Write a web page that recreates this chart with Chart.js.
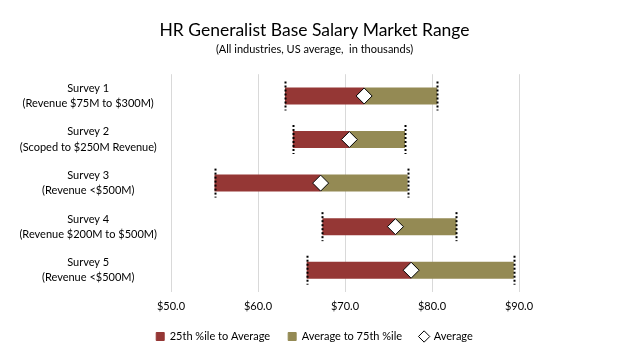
<!DOCTYPE html>
<html>
<head>
<meta charset="utf-8">
<script src="https://cdn.jsdelivr.net/npm/chart.js@4.4.0/dist/chart.umd.min.js"></script>
<style>
  html, body { margin: 0; padding: 0; background: #fff; }
  #wrap { width: 629px; height: 358px; }
</style>
</head>
<body>
<div id="wrap"><canvas id="salaryChart"></canvas></div>
<script>
// survey labels (two lines each)
const surveys = [
    ["Survey 1", "(Revenue $75M to $300M)"],
    ["Survey 2", "(Scoped to $250M Revenue)"],
    ["Survey 3", "(Revenue <$500M)"],
    ["Survey 4", "(Revenue $200M to $500M)"],
    ["Survey 5", "(Revenue <$500M)"]
];
const p25 = [63.1, 64.0, 55.0, 67.4, 65.6];
const avg = [72.2, 70.5, 67.2, 75.8, 77.6];
const p75 = [80.6, 76.9, 77.2, 82.8, 89.4];
const xTicks = [50, 60, 70, 80, 90];

const RED = "#953735";
const OLIVE = "#948A54";
const FONT = "Lato, 'Open Sans', sans-serif";

// dotted caps at the 25th and 75th percentile ends
const capPlugin = {
    id: "caps",
    afterDatasetsDraw(chart) {
        const ctx = chart.ctx;
        const xs = chart.scales.x;
        const bars = chart.getDatasetMeta(0).data;
        ctx.save();
        ctx.strokeStyle = "#000";
        ctx.lineWidth = 2;
        ctx.setLineDash([2, 2]);
        bars.forEach((bar, i) => {
            const h = bar.height / 2 + 6;
            [p25[i], p75[i]].forEach(v => {
                const x = Math.round(xs.getPixelForValue(v)) + 0.5;
                ctx.beginPath();
                ctx.moveTo(x, bar.y - h);
                ctx.lineTo(x, bar.y + h);
                ctx.stroke();
            });
        });
        ctx.restore();
    }
};

new Chart(document.getElementById("salaryChart"), {
    type: "bar",
    data: {
        labels: surveys,
        datasets: [
            {
                label: "25th %ile to Average",
                data: p25.map((v, i) => [v, avg[i]]),
                backgroundColor: RED,
                grouped: false,
                barPercentage: 0.39,
                categoryPercentage: 1,
                order: 2
            },
            {
                label: "Average to 75th %ile",
                data: avg.map((v, i) => [v, p75[i]]),
                backgroundColor: OLIVE,
                grouped: false,
                barPercentage: 0.39,
                categoryPercentage: 1,
                order: 2
            },
            {
                type: "line",
                label: "Average",
                data: avg,
                showLine: false,
                pointStyle: "rectRot",
                pointRadius: 8,
                pointBackgroundColor: "#fff",
                pointBorderColor: "#000",
                pointBorderWidth: 1,
                order: 1
            }
        ]
    },
    options: {
        indexAxis: "y",
        responsive: true,
        maintainAspectRatio: false,
        animation: false,
        layout: { padding: { left: 0, right: 0, top: 0, bottom: 6 } },
        plugins: {
            title: {
                display: true,
                text: "HR Generalist Base Salary Market Range",
                color: "#000",
                font: { family: FONT, size: 17.5, weight: "normal" },
                padding: { top: 20, bottom: 2 }
            },
            subtitle: {
                display: true,
                text: "(All industries, US average,  in thousands)",
                color: "#000",
                font: { family: FONT, size: 11 },
                padding: { top: 0, bottom: 18 }
            },
            legend: {
                position: "bottom",
                labels: {
                    color: "#000",
                    font: { family: FONT, size: 11 },
                    usePointStyle: true,
                    boxWidth: 8,
                    boxHeight: 8,
                    padding: 18,
                    generateLabels(chart) {
                        return chart.data.datasets.map((ds, i) => ({
                            text: ds.label,
                            fillStyle: i === 2 ? "#fff" : ds.backgroundColor,
                            strokeStyle: i === 2 ? "#000" : ds.backgroundColor,
                            lineWidth: 1,
                            pointStyle: i === 2 ? "rectRot" : "rect",
                            datasetIndex: i
                        }));
                    }
                }
            },
            tooltip: { enabled: false }
        },
        scales: {
            x: {
                min: 50,
                max: 90,
                afterBuildTicks(axis) {
                    axis.ticks = xTicks.map(v => ({ value: v }));
                },
                afterFit(axis) { axis.height = 21; },
                ticks: {
                    color: "#000",
                    font: { family: FONT, size: 11 },
                    padding: 8,
                    callback: v => "$" + v.toFixed(1)
                },
                grid: { color: "#D9D9D9", drawTicks: false },
                border: { display: false }
            },
            y: {
                afterFit(axis) { axis.width = 171; },
                ticks: {
                    color: "#000",
                    font: { family: FONT, size: 11, lineHeight: 1.4 },
                    padding: 6,
                    crossAlign: "center"
                },
                grid: { display: false },
                border: { display: false }
            },
            // empty axis on the right that only reserves space
            yRight: {
                position: "right",
                afterFit(axis) { axis.width = 110; },
                ticks: { display: false },
                grid: { display: false },
                border: { display: false }
            }
        }
    },
    plugins: [capPlugin]
});
</script>
</body>
</html>
